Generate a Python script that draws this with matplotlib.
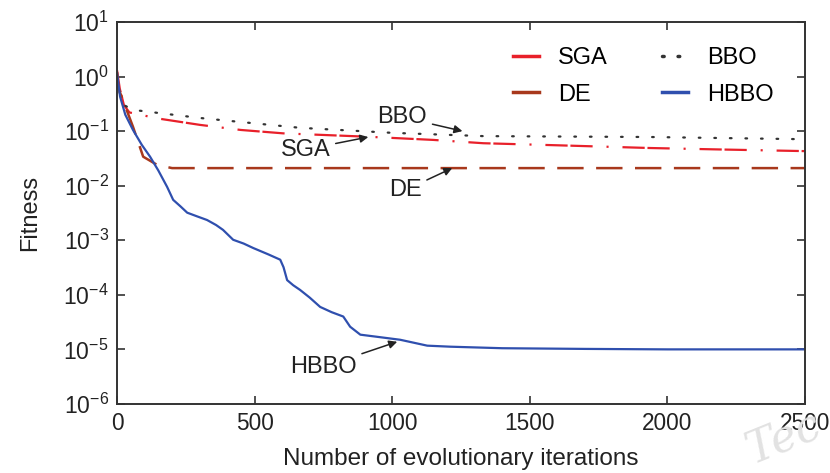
import numpy as np
import matplotlib
matplotlib.use("Agg")
import matplotlib.pyplot as plt

plt.rcParams['font.family'] = ['Liberation Sans', 'DejaVu Sans']
plt.rcParams['mathtext.default'] = 'regular'
plt.rcParams['lines.scale_dashes'] = False

# HBBO
hbbo_x = [0, 11, 30, 58, 90, 120, 150, 182, 204, 230, 255, 290, 327, 360, 385,
          422, 460, 495, 550, 593, 605, 618, 640, 665, 700, 738, 780, 822, 847,
          884, 945, 1029, 1127, 1211, 1400, 1700, 2000, 2500]
hbbo_y = [1.17, 0.43, 0.2, 0.105, 0.056, 0.034, 0.019, 9.5e-3, 5.5e-3, 4.2e-3,
          3.2e-3, 2.75e-3, 2.35e-3, 1.9e-3, 1.55e-3, 1.02e-3, 8.7e-4, 7.2e-4,
          5.5e-4, 4.4e-4, 3.2e-4, 1.86e-4, 1.5e-4, 1.23e-4, 8.9e-5, 6.0e-5,
          4.8e-5, 4.0e-5, 2.6e-5, 1.86e-5, 1.7e-5, 1.5e-5, 1.17e-5, 1.12e-5,
          1.05e-5, 1.02e-5, 1.0e-5, 1.0e-5]

# DE
de_x = [0, 3, 58, 95, 146, 200, 2500]
de_y = [1.2, 0.65, 0.12, 0.034, 0.024, 0.021, 0.021]

# SGA
sga_x = [0, 10, 25, 45, 150, 302, 450, 604, 909, 1149, 1331, 1600, 1938, 2200, 2500]
sga_y = [1.3, 0.6, 0.3, 0.22, 0.17, 0.13, 0.105, 0.091, 0.079, 0.069, 0.06,
         0.055, 0.049, 0.046, 0.043]

# BBO
bbo_x = [0, 10, 25, 58, 302, 665, 1000, 1331, 1938, 2500]
bbo_y = [1.0, 0.5, 0.3, 0.245, 0.174, 0.115, 0.093, 0.081, 0.078, 0.071]

xticks = [0, 500, 1000, 1500, 2000, 2500]
yticks = [1e-6, 1e-5, 1e-4, 1e-3, 1e-2, 1e-1, 1e0, 1e1]
ytick_labels = ['$10^{-6}$', '$10^{-5}$', '$10^{-4}$', '$10^{-3}$',
                '$10^{-2}$', '$10^{-1}$', '$10^{0}$', '$10^{1}$']

c_sga = '#e8202a'
c_de = '#a8381c'
c_hbbo = '#2f4fae'
c_bbo = '#333333'
c_txt = '#222222'

fig = plt.figure(figsize=(8.3, 4.73), dpi=100)
ax = fig.add_axes([0.141, 0.146, 0.829, 0.8075])

l_sga, = ax.plot(sga_x, sga_y, color=c_sga, lw=1.6, label='SGA',
                 dashes=(16, 2, 16, 10, 1.5, 10))
l_bbo, = ax.plot(bbo_x, bbo_y, color=c_bbo, lw=1.6, label='BBO',
                 dashes=(1.2, 10), dash_capstyle='round')
l_de, = ax.plot(de_x, de_y, color=c_de, lw=1.8, label='DE', dashes=(19, 9))
l_hbbo, = ax.plot(hbbo_x, hbbo_y, color=c_hbbo, lw=1.6, label='HBBO')

ax.set_yscale('log')
ax.set_xlim(0, 2500)
ax.set_ylim(1e-6, 1e1)
ax.set_xticks(xticks)
ax.set_yticks(yticks)
ax.set_yticklabels(ytick_labels)
ax.minorticks_off()
ax.tick_params(direction='in', top=True, right=True, length=6, width=1.2,
               color='#333333', labelcolor=c_txt, pad=6)
ax.tick_params(axis='x', labelsize=16.3)
ax.tick_params(axis='y', labelsize=16.5)
for s in ax.spines.values():
    s.set_linewidth(1.4)
    s.set_color('#333333')

ax.set_xlabel('Number of evolutionary iterations', fontsize=17.5, color=c_txt,
              labelpad=9)
ax.set_ylabel('Fitness', fontsize=17, color=c_txt, labelpad=16)

leg = ax.legend([l_sga, l_de, l_bbo, l_hbbo], ['SGA', 'DE', 'BBO', 'HBBO'],
                ncol=2, loc='upper right', frameon=False, fontsize=17,
                handlelength=1.1, columnspacing=2.3, labelspacing=0.62,
                bbox_to_anchor=(0.985, 0.99))
for h in leg.get_lines():
    h.set_linewidth(2.5)
    if h.get_label() in ('SGA', 'DE'):
        h.set_linestyle('-')

arrow = dict(arrowstyle='-|>', color=c_txt, lw=1.1, mutation_scale=12,
             shrinkA=2, shrinkB=0)
ax.annotate('BBO', xy=(1255, 0.1), xytext=(1036, 0.18), fontsize=17,
            ha='center', va='center', color=c_txt, arrowprops=arrow)
ax.annotate('SGA', xy=(913, 0.078), xytext=(684, 0.046), fontsize=17,
            ha='center', va='center', color=c_txt, arrowprops=arrow)
ax.annotate('DE', xy=(1218, 0.021), xytext=(1047, 0.0083), fontsize=17,
            ha='center', va='center', color=c_txt, arrowprops=arrow)
ax.annotate('HBBO', xy=(1018, 1.38e-5), xytext=(749, 4.8e-6), fontsize=17,
            ha='center', va='center', color=c_txt, arrowprops=arrow)

fig.text(0.997, 0.003, 'Tec', fontsize=32, color='#e2e2e2', family='DejaVu Serif',
         style='italic', rotation=22, ha='right', va='bottom', zorder=0)

fig.savefig('out.png', dpi=100)
